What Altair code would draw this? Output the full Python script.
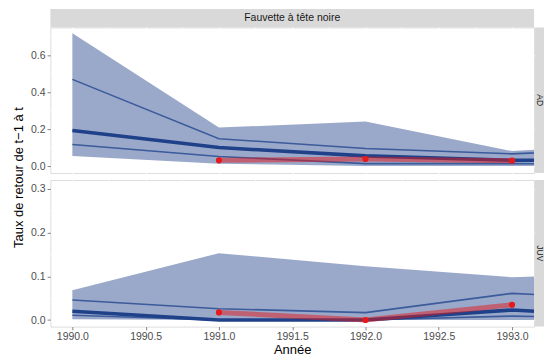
import altair as alt
import pandas as pd

# ---- data ----
years = [1990, 1991, 1992, 1993, 1994]
ad_lo = [0.054, 0.013, 0.000, 0.000, 0.000]
ad_q1 = [0.117, 0.052, 0.013, 0.013, 0.012]
ad_med = [0.192, 0.100, 0.055, 0.031, 0.031]
ad_q3 = [0.469, 0.148, 0.095, 0.066, 0.100]
ad_hi = [0.719, 0.208, 0.241, 0.081, 0.130]

juv_lo = [0.002, 0.000, 0.000, 0.000, 0.000]
juv_q1 = [0.011, 0.000, 0.000, 0.009, 0.004]
juv_med = [0.020, 0.000, 0.000, 0.023, 0.005]
juv_q3 = [0.046, 0.026, 0.017, 0.061, 0.045]
juv_hi = [0.068, 0.153, 0.123, 0.098, 0.110]

obs_years = [1991, 1992, 1993]
ad_obs = [0.031, 0.038, 0.029]
juv_obs = [0.0175, 0.000, 0.035]

x_ticks = [1990.0, 1990.5, 1991.0, 1991.5, 1992.0, 1992.5, 1993.0]
x_minor = [1990.25, 1990.75, 1991.25, 1991.75, 1992.25, 1992.75]
ad_ticks = [0.0, 0.2, 0.4, 0.6]
ad_minor = [0.1, 0.3, 0.5, 0.7]
juv_ticks = [0.0, 0.1, 0.2, 0.3]
juv_minor = [0.05, 0.15, 0.25]

facet_title = "Fauvette à tête noire"
row_labels = ["AD", "JUV"]
x_title = "Année"
y_title = "Taux de retour de t−1 à t"

W = 485
FONT = "Liberation Sans"
BAND = "#1F3F8A"
THIN = "#3B5B9B"
THICK = "#1F4189"
RED = "#E41A1C"

xs = alt.Scale(domain=[1989.85, 1993.15], nice=False, zero=False)


def x_axis(show):
    common = dict(values=x_ticks, grid=True, gridColor="white", gridWidth=1.7, domain=False)
    if show:
        return alt.Axis(**common, format=".1f", title=x_title, ticks=True, tickColor="#333333",
                        tickSize=3.3, tickWidth=0.6, labelColor="#4D4D4D", labelFontSize=10.5,
                        labelPadding=1.5, labelFont=FONT, titleFont=FONT, titleFontSize=13,
                        titleFontWeight="normal", titleColor="black", titlePadding=2)
    return alt.Axis(**common, labels=False, ticks=False, title=None)


def y_axis(values, show_title):
    kw = dict(values=values, format=".1f", grid=True, gridColor="white", gridWidth=1.7,
              domain=False, ticks=True, tickColor="#333333", tickSize=3.3, tickWidth=0.6,
              labelColor="#4D4D4D", labelFontSize=10.5, labelPadding=2, labelFont=FONT)
    if show_title:
        return alt.Axis(**kw, title=y_title, titleFont=FONT, titleFontSize=13,
                        titleFontWeight="normal", titleColor="black", titleAngle=270,
                        titleX=-32, titleY=-3, titleAlign="center", titleBaseline="middle")
    return alt.Axis(**kw, title=None)


def panel(lo, q1, med, q3, hi, obs, yticks, yminor, ydom, label, H, show_x, show_title, top_strip):
    ys = alt.Scale(domain=ydom, nice=False, zero=False)
    xa = x_axis(show_x)
    ya = y_axis(yticks, show_title)
    df = pd.DataFrame({"year": years, "lo": lo, "q1": q1, "med": med, "q3": q3, "hi": hi})
    dobs = pd.DataFrame({"year": obs_years, "obs": obs})
    X = alt.X("year:Q", scale=xs, axis=xa)
    layers = []
    layers.append(alt.Chart(pd.DataFrame({"x": x_minor})).mark_rule(color="white", strokeWidth=0.85)
                  .encode(x=alt.X("x:Q", scale=xs, axis=xa)))
    layers.append(alt.Chart(pd.DataFrame({"y": yminor})).mark_rule(color="white", strokeWidth=0.85)
                  .encode(y=alt.Y("y:Q", scale=ys, axis=ya)))
    base = alt.Chart(df)
    layers.append(base.mark_area(color=BAND, opacity=0.45, clip=True)
                  .encode(x=X, y=alt.Y("lo:Q", scale=ys, axis=ya), y2="hi:Q"))
    for col in ["q1", "q3"]:
        layers.append(base.mark_line(color=THIN, strokeWidth=1.6, clip=True)
                      .encode(x=X, y=alt.Y(f"{col}:Q", scale=ys, axis=ya)))
    layers.append(base.mark_line(color=THICK, strokeWidth=3.6, clip=True)
                  .encode(x=X, y=alt.Y("med:Q", scale=ys, axis=ya)))
    ob = alt.Chart(dobs)
    layers.append(ob.mark_line(color=RED, opacity=0.5, strokeWidth=5, clip=True)
                  .encode(x=X, y=alt.Y("obs:Q", scale=ys, axis=ya)))
    layers.append(ob.mark_circle(color=RED, size=38, opacity=1, clip=True)
                  .encode(x=X, y=alt.Y("obs:Q", scale=ys, axis=ya)))
    # right strip
    lab = alt.Chart(pd.DataFrame({"t": [label]}))
    layers.append(lab.mark_rect(color="#D9D9D9").encode(
        x=alt.value(W + 1), x2=alt.value(W + 10), y=alt.value(0), y2=alt.value(H)))
    layers.append(lab.mark_text(angle=90, fontSize=8.5, color="#1A1A1A", font=FONT,
                                baseline="middle", align="center").encode(
        x=alt.value(W + 5.5), y=alt.value(H / 2), text="t:N"))
    if top_strip:
        tl = alt.Chart(pd.DataFrame({"t": [facet_title]}))
        layers.append(tl.mark_rect(color="#D9D9D9").encode(
            x=alt.value(0), x2=alt.value(W), y=alt.value(-18.5), y2=alt.value(0)))
        layers.append(tl.mark_text(fontSize=10.5, color="#1A1A1A", font=FONT,
                                   baseline="middle", align="center").encode(
            x=alt.value(W / 2), y=alt.value(-9.5), text="t:N"))
    return alt.layer(*layers).properties(width=W, height=H)


top = panel(ad_lo, ad_q1, ad_med, ad_q3, ad_hi, ad_obs, ad_ticks, ad_minor,
            [-0.0377, 0.750], row_labels[0], 146, False, False, True)
bottom = panel(juv_lo, juv_q1, juv_med, juv_q3, juv_hi, juv_obs, juv_ticks, juv_minor,
               [-0.015, 0.3205], row_labels[1], 147, True, True, False)

chart = (
    alt.vconcat(top, bottom, spacing=7, bounds="flush")
    .properties(padding={"left": 3.5, "top": 0, "right": 0, "bottom": -2}, background="white")
    .configure_view(fill="#EBEBEB", stroke=None)
    .configure(font=FONT)
)

chart.save("out.html", embed_options={"renderer": "svg", "actions": False})
